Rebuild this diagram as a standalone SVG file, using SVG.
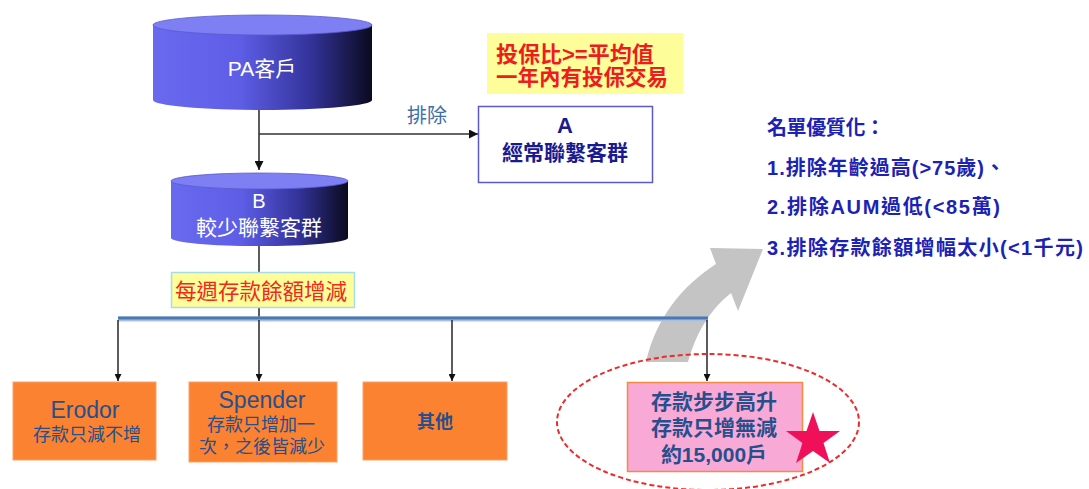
<svg xmlns="http://www.w3.org/2000/svg" width="1089" height="489" viewBox="0 0 1089 489">
<style>
.cjk{font-family:"Liberation Sans","Noto Sans CJK TC",sans-serif}
.cyl-t{fill:#ffffff;text-anchor:middle}
.line{stroke:#333333;stroke-width:1.6;fill:none}
.orange{fill:#fa8230;stroke:#f7a26a;stroke-width:1}
.dk{fill:#264f8c;text-anchor:middle}
.blue{fill:#1c22b4;font-weight:bold;font-size:20px}
.red{fill:#ee1c1c;font-weight:bold}
</style>
<defs>
<linearGradient id="cylg" x1="0" y1="0" x2="1" y2="0">
<stop offset="0" stop-color="#6a6af0"/>
<stop offset="0.4" stop-color="#5d5de6"/>
<stop offset="0.72" stop-color="#33339a"/>
<stop offset="1" stop-color="#0a0a1e"/>
</linearGradient>
<marker id="ah" viewBox="0 0 10 10" refX="10" refY="5" markerWidth="7" markerHeight="7" markerUnits="userSpaceOnUse" orient="auto">
<path d="M0,0 L10,5 L0,10 Z" fill="#111111"/>
</marker>
<marker id="ahs" viewBox="0 0 10 10" refX="10" refY="5" markerWidth="9" markerHeight="9" markerUnits="userSpaceOnUse" orient="auto">
<path d="M0,0 L10,5 L0,10 Z" fill="#111111"/>
</marker>
</defs>
<rect width="1089" height="489" fill="#ffffff"/>

<g id="gray-arrow">
<path d="M646,362 C656,318 682,286 716,264 L710,248 L763,249 L738,311 L731,293 C712,308 697,330 688,362 Z" fill="#c4c4c4"/>
</g>

<g id="connectors">
<line class="line" x1="259" y1="110" x2="259" y2="170" marker-end="url(#ahs)"/>
<line class="line" x1="259" y1="134" x2="478" y2="134" marker-end="url(#ahs)"/>
<line class="line" x1="259" y1="246" x2="259" y2="272"/>
<line class="line" x1="259" y1="308" x2="259" y2="318"/>
<line x1="118" y1="319" x2="708" y2="319" stroke="#a9c1de" stroke-width="5"/>
<line x1="118" y1="318" x2="708" y2="318" stroke="#4a78b4" stroke-width="3"/>
<line class="line" x1="118" y1="320" x2="118" y2="381" marker-end="url(#ah)"/>
<line class="line" x1="259" y1="320" x2="259" y2="381" marker-end="url(#ah)"/>
<line class="line" x1="452" y1="320" x2="452" y2="381" marker-end="url(#ah)"/>
<line class="line" x1="707" y1="320" x2="707" y2="381" marker-end="url(#ah)"/>
<text class="cjk" x="427" y="123" font-size="20" fill="#3e6fa6" text-anchor="middle">排除</text>
</g>

<g id="pa">
<path d="M153,25 L153,100 A109.5,10 0 0 0 372,100 L372,25 Z" fill="url(#cylg)"/>
<ellipse cx="262.5" cy="25" rx="109.5" ry="10" fill="#7f7ff4" stroke="#5a5ad0" stroke-width="0.8"/>
<text class="cjk cyl-t" x="262" y="76" font-size="21">PA客戶</text>
</g>

<g id="b">
<path d="M171,181 L171,238 A88.5,8 0 0 0 348,238 L348,181 Z" fill="url(#cylg)"/>
<ellipse cx="259.5" cy="181" rx="88.5" ry="8" fill="#7f7ff4" stroke="#5a5ad0" stroke-width="0.8"/>
<text class="cjk cyl-t" x="259" y="208" font-size="20">B</text>
<text class="cjk cyl-t" x="259" y="235" font-size="21">較少聯繫客群</text>
</g>

<g id="cond">
<rect x="487" y="33" width="196" height="61" fill="#fdfd9a"/>
<text class="cjk red" x="496" y="62" font-size="22">投保比&gt;=平均值</text>
<text class="cjk red" x="496" y="85" font-size="21.5">一年內有投保交易</text>
</g>

<g id="a">
<rect x="478.5" y="106.5" width="174" height="76" fill="#ffffff" stroke="#5a5ac8" stroke-width="1.5"/>
<text class="cjk" x="565" y="133" font-size="22" font-weight="bold" fill="#1a1a90" text-anchor="middle">A</text>
<text class="cjk" x="565" y="160" font-size="21" font-weight="bold" fill="#1a1a90" text-anchor="middle">經常聯繫客群</text>
</g>

<g id="weekly">
<rect x="171.5" y="272.5" width="183" height="35" fill="#fdfd9a" stroke="#a8dcec" stroke-width="1.5"/>
<text class="cjk" x="261" y="299" font-size="21.5" fill="#ee2a1c" text-anchor="middle">每週存款餘額增減</text>
</g>

<g id="erodor">
<rect class="orange" x="13" y="382" width="143" height="78"/>
<text class="cjk dk" x="85" y="418" font-size="23">Erodor</text>
<text class="cjk dk" x="87" y="441" font-size="18">存款只減不增</text>
</g>

<g id="spender">
<rect class="orange" x="189" y="382" width="148" height="80"/>
<text class="cjk dk" x="262" y="408" font-size="23">Spender</text>
<text class="cjk dk" x="261" y="431" font-size="18">存款只增加一</text>
<text class="cjk dk" x="262" y="453" font-size="18">次，之後皆減少</text>
</g>

<g id="other">
<rect class="orange" x="363" y="382" width="144" height="78"/>
<text class="cjk dk" x="435" y="428" font-size="18" font-weight="bold">其他</text>
</g>

<g id="rising">
<rect x="627.5" y="382.5" width="175" height="89" fill="#f9a9d6" stroke="#f58a40" stroke-width="1.5"/>
<text class="cjk dk" x="714" y="409" font-size="21" font-weight="bold">存款步步高升</text>
<text class="cjk dk" x="714" y="435" font-size="21" font-weight="bold">存款只增無減</text>
<text class="cjk dk" x="714" y="462" font-size="21" font-weight="bold">約15,000戶</text>
</g>

<g id="highlight">
<ellipse cx="708" cy="422" rx="151" ry="68" fill="none" stroke="#ee2b2b" stroke-width="2" stroke-dasharray="5,3"/>
<polygon points="813,412 819.5,431 840,431 823.5,443 830,463 813,451 796,463 802.5,443 786,431 806.5,431" fill="#f0105a"/>
</g>

<g id="notes">
<text class="cjk blue" x="767" y="135" textLength="118" lengthAdjust="spacing">名單優質化：</text>
<text class="cjk blue" x="767" y="175" textLength="238" lengthAdjust="spacing">1.排除年齡過高(&gt;75歲)、</text>
<text class="cjk blue" x="767" y="214" textLength="233" lengthAdjust="spacing">2.排除AUM過低(&lt;85萬)</text>
<text class="cjk blue" x="767" y="255" textLength="316" lengthAdjust="spacing">3.排除存款餘額增幅太小(&lt;1千元)</text>
</g>
</svg>
